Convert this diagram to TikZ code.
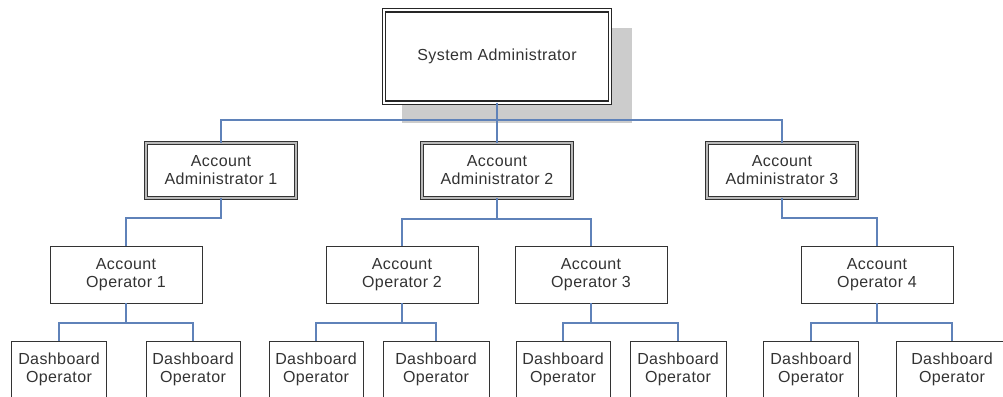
\documentclass[tikz,border=0pt]{standalone}
\usepackage{fontspec}
\setmainfont[LetterSpace=2.5]{Liberation Sans}
\begin{document}
\begin{tikzpicture}[x=1pt,y=-1pt,
  every node/.style={outer sep=0pt, inner sep=0pt, align=center, text=black!80,
    font=\fontsize{16}{18}\selectfont},
  sabox/.style={draw=black!85, line width=1.2pt, double=white, double distance=2pt,
    fill=white, minimum width=226pt, minimum height=92pt},
  aabox/.style={draw=black!80, line width=1.1pt, double=gray!55, double distance=1.1pt,
    fill=white, minimum width=150pt, minimum height=55pt},
  aobox/.style={draw=black!80, line width=1pt, fill=white, minimum width=152pt, minimum height=57pt},
  dobox/.style={draw=black!80, line width=1pt, fill=white, minimum height=57pt},
  link/.style={draw={rgb,255:red,95;green,130;blue,185}, line width=1.2pt}
]
\useasboundingbox (0,0) rectangle (1003,396);
\clip (0,0) rectangle (1003,396);
\fill[white] (0,0) rectangle (1003,396);
% shadow of the top box
\fill[gray!40] (402,28) rectangle (632,123);

\coordinate (j0) at (497,120);
\coordinate (j1) at (221,218);
\coordinate (j2) at (497,219);
\coordinate (j3) at (782,218);

\node[sabox] (SA) at (497,56.5) {System Administrator};

\node[aabox] (AA1) at (221,170.5) {Account\\Administrator 1};
\node[aabox] (AA2) at (497,170.5) {Account\\Administrator 2};
\node[aabox] (AA3) at (782,170.5) {Account\\Administrator 3};

\node[aobox] (AO1) at (126,274.5) {Account\\Operator 1};
\node[aobox] (AO2) at (402,274.5) {Account\\Operator 2};
\node[aobox] (AO3) at (591,274.5) {Account\\Operator 3};
\node[aobox] (AO4) at (877,274.5) {Account\\Operator 4};

\node[dobox, minimum width=95pt] (D1) at (59,369.5) {Dashboard\\Operator};
\node[dobox, minimum width=94pt] (D2) at (193,369.5) {Dashboard\\Operator};
\node[dobox, minimum width=94pt] (D3) at (316,369.5) {Dashboard\\Operator};
\node[dobox, minimum width=106pt] (D4) at (436,369.5) {Dashboard\\Operator};
\node[dobox, minimum width=94pt] (D5) at (563,369.5) {Dashboard\\Operator};
\node[dobox, minimum width=96pt] (D6) at (678,369.5) {Dashboard\\Operator};
\node[dobox, minimum width=95pt] (D7) at (811,369.5) {Dashboard\\Operator};
\node[dobox, minimum width=112pt] (D8) at (952,369.5) {Dashboard\\Operator};

\begin{scope}[link]
\draw (SA.south) -- (j0);
\draw (AA1.north) |- (j0) -| (AA3.north);
\draw (j0) -- (AA2.north);

\draw (AA1.south) -- (j1) -| (AO1.north);
\draw (AA2.south) -- (j2);
\draw (AO2.north) |- (j2) -| (AO3.north);
\draw (AA3.south) -- (j3) -| (AO4.north);

\draw (AO1.south) -- (AO1.south |- 0,323);
\draw (D1.north) |- (AO1.south |- 0,323) -| (D2.north);
\draw (AO2.south) -- (AO2.south |- 0,323);
\draw (D3.north) |- (AO2.south |- 0,323) -| (D4.north);
\draw (AO3.south) -- (AO3.south |- 0,323);
\draw (D5.north) |- (AO3.south |- 0,323) -| (D6.north);
\draw (AO4.south) -- (AO4.south |- 0,323);
\draw (D7.north) |- (AO4.south |- 0,323) -| (D8.north);
\end{scope}
\end{tikzpicture}
\end{document}
